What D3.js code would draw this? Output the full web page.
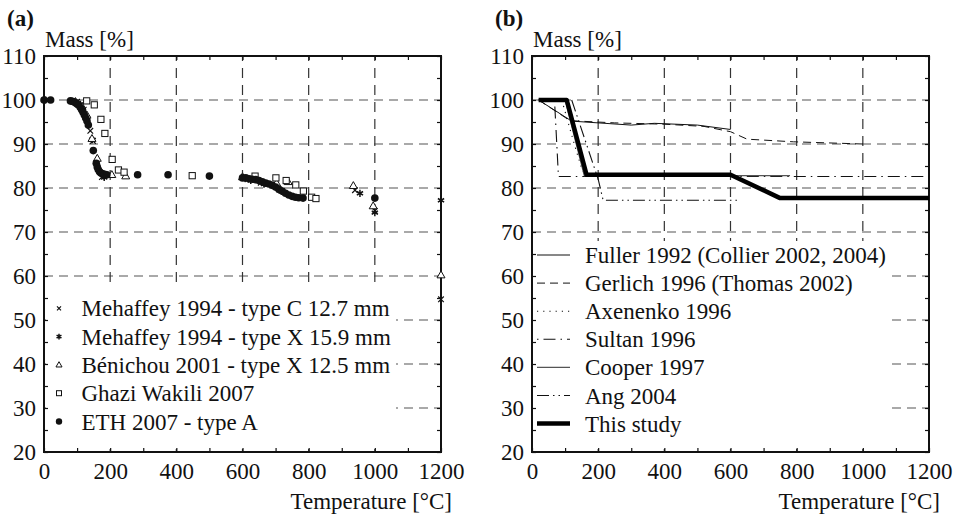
<!DOCTYPE html>
<html>
<head>
<meta charset="utf-8">
<script src="https://cdn.jsdelivr.net/npm/d3@7"></script>
<style>
body { margin: 0; background: #fff; }
text { font-family: "Liberation Serif", "Times New Roman", serif; fill: #111; }
</style>
</head>
<body>
<script>
const width = 960;
const height = 517;

// ticks and labels
const tempTicks = d3.range(0, 1201, 100);
const tempLabels = [0, 200, 400, 600, 800, 1000, 1200];
const massTicks = d3.range(20, 111, 5);
const massLabels = [20, 30, 40, 50, 60, 70, 80, 90, 100, 110];
const gridTemps = [200, 400, 600, 800, 1000];
const gridMass = [30, 40, 50, 60, 70, 80, 90, 100];

// panel (a) - measured points [temperature, mass]
const mehaffeyC = [[10,100],[100,99.6],[120,97.8],[140,93],[148,90.7],[175,82.5],[615,82],[655,81.2],[712,79.6],[940,79.5],[1000,74.8],[1200,54.7]];
const mehaffeyX = [[5,100],[110,99],[130,96],[146,91],[182,82.4],[625,81.7],[665,80.9],[718,79.2],[955,78.8],[1000,74.4],[1200,77.2]];
const benichou = [[95,99.6],[115,98.5],[130,96.5],[145,91.2],[161,86.7],[205,83],[247,82.7],[600,82.5],[640,82.2],[703,81.1],[738,81.4],[935,80.5],[995,75.9],[1200,60.2]];
const ghaziWakili = [[129,99.8],[152,98.9],[172,95.6],[184,92.4],[206,86.5],[225,84.1],[242,83.6],[448,82.8],[638,82.7],[701,82.3],[732,81.7],[761,80.7],[784,79.3],[809,77.9],[822,77.6]];
const eth = [[0,100],[20,100],[80,99.8],[85,99.7],[90,99.6],[95,99.4],[100,99.1],[105,98.8],[110,98.3],[114,97.8],[118,97.2],[122,96.6],[126,95.9],[130,95.2],[134,94.3],[149,88.5],[158,85.6],[161,84.8],[164,84.2],[168,83.7],[172,83.4],[177,83.2],[183,83.1],[190,83],[283,83],[375,83],[500,82.7],[600,82.3],[610,82.3],[620,82.1],[630,82],[640,81.9],[650,81.7],[660,81.4],[670,81.1],[680,80.9],[690,80.6],[700,80.2],[710,79.7],[720,79.3],[730,78.8],[740,78.4],[750,78.1],[760,77.9],[770,77.8],[783,77.7],[1000,77.7]];

// panel (b) - model curves
const fuller = [[20,100],[120,95.2],[300,94.3],[370,94.7],[500,94.3],[600,93.3]];
const gerlich = [[20,100],[115,95.3],[250,94.8],[400,94.5],[520,94],[600,92.8],[650,91.1],[790,90.5],[1000,90]];
const axenenko = [[90,100],[130,89.4],[150,84.5],[160,83]];
const sultan = [[68,100],[80,82.6],[1200,82.6]];
const cooper = [[100,100],[158,82.8],[780,82.8]];
const ang = [[120,100],[200,82],[215,77.2],[620,77.2]];
const thisStudy = [[20,100],[105,100],[165,83],[600,83],[750,77.7],[1200,77.7]];

const svg = d3.select("body").append("svg").attr("width", width).attr("height", height);

// marker paths
function crossPath(s) { return `M${-s},${-s}L${s},${s}M${-s},${s}L${s},${-s}`; }
function starPath(s) {
    let p = "";
    for (let k = 0; k < 3; k++) {
        const a = Math.PI / 2 + k * Math.PI / 3;
        p += `M${s*Math.cos(a)},${s*Math.sin(a)}L${-s*Math.cos(a)},${-s*Math.sin(a)}`;
    }
    return p;
}
function triPath(s) { return `M0,${-s}L${s*0.95},${s*0.65}L${-s*0.95},${s*0.65}Z`; }

function drawFrame(left, label, box) {
    const x = d3.scaleLinear().domain([0, 1200]).range([left, left + 397]);
    const y = d3.scaleLinear().domain([20, 110]).range([452, 56]);
    const g = svg.append("g");

    svg.append("text").text(label).attr("x", left - 37).attr("y", 26)
        .attr("font-weight", "bold").attr("font-size", "23px");
    svg.append("text").text("Mass [%]").attr("x", left + 1).attr("y", 47)
        .attr("font-size", "23px");
    svg.append("text").text("Temperature [°C]").attr("x", left + 408).attr("y", 509)
        .attr("text-anchor", "end").attr("font-size", "23px");

    // dashed grid
    g.selectAll(".hgrid").data(gridMass).join("line").attr("class", "hgrid")
        .attr("x1", x(0)).attr("x2", x(1200)).attr("y1", d => y(d)).attr("y2", d => y(d))
        .attr("stroke", "#555").attr("stroke-width", 1.2).attr("stroke-dasharray", "9,6");
    g.selectAll(".vgrid").data(gridTemps).join("line").attr("class", "vgrid")
        .attr("x1", d => x(d)).attr("x2", d => x(d)).attr("y1", y(20)).attr("y2", y(110))
        .attr("stroke", "#333").attr("stroke-width", 1.2).attr("stroke-dasharray", "10,7");

    // legend background hides grid
    g.append("rect").attr("x", box[0]).attr("y", box[1])
        .attr("width", box[2] - box[0]).attr("height", box[3] - box[1]).attr("fill", "#fff");

    const style = sel => {
        sel.attr("font-size", 23).attr("font-family", "Liberation Serif, Times New Roman, serif");
        sel.select(".domain").remove();
        sel.selectAll(".tick line").attr("stroke", "#111").attr("stroke-width", 1.2);
        sel.selectAll(".tick text").attr("fill", "#111");
    };
    g.append("g").attr("transform", `translate(0,${y(20)})`)
        .call(d3.axisBottom(x).tickValues(tempTicks).tickSize(-4).tickPadding(11)
            .tickFormat(d => tempLabels.includes(d) ? d : "")).call(style);
    g.append("g").attr("transform", `translate(0,${y(110)})`)
        .call(d3.axisTop(x).tickValues(tempTicks).tickSize(-4).tickFormat("")).call(style);
    g.append("g").attr("transform", `translate(${x(0)},0)`)
        .call(d3.axisLeft(y).tickValues(massTicks).tickSize(-4).tickPadding(8)
            .tickFormat(d => massLabels.includes(d) ? d : "")).call(style);
    g.append("g").attr("transform", `translate(${x(1200)},0)`)
        .call(d3.axisRight(y).tickValues(massTicks).tickSize(-4).tickFormat("")).call(style);

    g.append("rect").attr("x", x(0)).attr("y", y(110))
        .attr("width", x(1200) - x(0)).attr("height", y(20) - y(110))
        .attr("fill", "none").attr("stroke", "#111").attr("stroke-width", 2);

    return { x, y, g };
}

// ---------- panel (a)
const pa = drawFrame(44, "(a)", [46, 283, 396, 449]);

const seriesA = [
    { name: "Mehaffey 1994 - type C 12.7 mm", data: mehaffeyC, type: "cross" },
    { name: "Mehaffey 1994 - type X 15.9 mm", data: mehaffeyX, type: "star" },
    { name: "Bénichou 2001 - type X 12.5 mm", data: benichou, type: "tri" },
    { name: "Ghazi Wakili 2007", data: ghaziWakili, type: "square" },
    { name: "ETH 2007 - type A", data: eth, type: "circle" }
];

function marker(sel, type, s) {
    if (type === "circle") {
        sel.append("circle").attr("r", s).attr("fill", "#111");
    } else if (type === "square") {
        sel.append("rect").attr("x", -s).attr("y", -s).attr("width", 2 * s).attr("height", 2 * s)
            .attr("fill", "#fff").attr("stroke", "#111").attr("stroke-width", 1);
    } else if (type === "tri") {
        sel.append("path").attr("d", triPath(s)).attr("fill", "#fff").attr("stroke", "#111").attr("stroke-width", 1);
    } else if (type === "star") {
        sel.append("path").attr("d", starPath(s)).attr("stroke", "#111").attr("stroke-width", 1.5);
    } else {
        sel.append("path").attr("d", crossPath(s)).attr("stroke", "#111").attr("stroke-width", 1.2);
    }
}

const plotSize = { cross: 2.8, star: 3.6, tri: 4.2, square: 3.1, circle: 3.8 };
const legSize = { cross: 2, star: 2.8, tri: 3.2, square: 2.5, circle: 3.2 };

seriesA.forEach(s => {
    pa.g.selectAll(null).data(s.data).join("g")
        .attr("transform", d => `translate(${pa.x(d[0])},${pa.y(d[1])})`)
        .each(function() { marker(d3.select(this), s.type, plotSize[s.type]); });
});

const legA = pa.g.append("g");
seriesA.forEach((s, i) => {
    const cy = 308.3 + i * 28.3;
    marker(legA.append("g").attr("transform", `translate(59,${cy})`), s.type, legSize[s.type]);
    legA.append("text").text(s.name).attr("x", 81.5).attr("y", cy).attr("dy", "0.35em")
        .attr("font-size", "23px");
});

// ---------- panel (b)
const pb = drawFrame(532, "(b)", [533, 241, 891, 449]);

const seriesB = [
    { name: "Fuller 1992 (Collier 2002, 2004)", data: fuller, dash: null, w: 1, c: "#111" },
    { name: "Gerlich 1996 (Thomas 2002)", data: gerlich, dash: "8,5", w: 1, c: "#111" },
    { name: "Axenenko 1996", data: axenenko, dash: "1.2,5", w: 1.1, c: "#111" },
    { name: "Sultan 1996", data: sultan, dash: "1.5,5,12,5", w: 1.1, c: "#111" },
    { name: "Cooper 1997", data: cooper, dash: null, w: 1.2, c: "#555" },
    { name: "Ang 2004", data: ang, dash: "12,4,1.5,4,1.5,4", w: 1.1, c: "#111" },
    { name: "This study", data: thisStudy, dash: null, w: 4.5, c: "#000" }
];

const line = d3.line().x(d => pb.x(d[0])).y(d => pb.y(d[1]));

seriesB.forEach(s => {
    pb.g.append("path").datum(s.data).attr("d", line)
        .attr("fill", "none").attr("stroke", s.c).attr("stroke-width", s.w)
        .attr("stroke-dasharray", s.dash).attr("stroke-linejoin", "round");
});

const legB = pb.g.append("g");
seriesB.forEach((s, i) => {
    const cy = 255 + i * 28.1;
    legB.append("line").attr("x1", 537).attr("x2", 570).attr("y1", cy).attr("y2", cy)
        .attr("stroke", s.c).attr("stroke-width", s.w).attr("stroke-dasharray", s.dash);
    legB.append("text").text(s.name).attr("x", 585).attr("y", cy).attr("dy", "0.35em")
        .attr("font-size", "23px");
});
</script>
</body>
</html>
